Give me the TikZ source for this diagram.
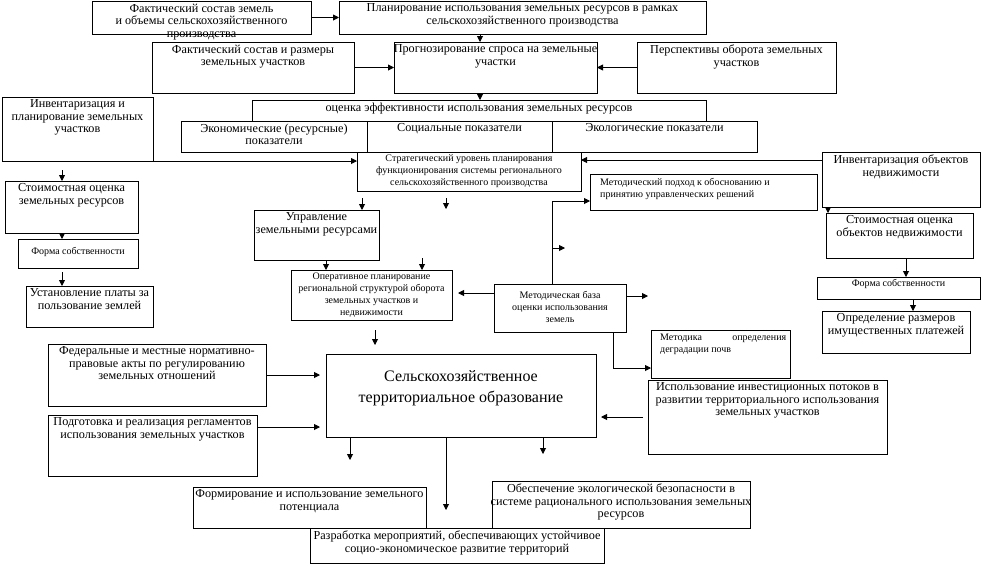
\documentclass[tikz,border=0pt]{standalone}
\usepackage{fontspec}
\setmainfont{Liberation Serif}
\usetikzlibrary{arrows.meta,calc}
\newcommand\fMed{\fontsize{12.2}{12.6}\selectfont}
\newcommand\fSm{\fontsize{10}{12}\selectfont}
\newcommand\fLg{\fontsize{16}{21}\selectfont}
\newcommand\Bx[5]{\node[box, minimum width={(#4-#2)*1pt}, minimum height={(#5-#3)*1pt}] (#1) at (#2,#3) {};}
\newcommand\Tx[3][]{\node[tx,#1] (#2-t) at ([yshift=-2.5pt]#2.north) {#3};}
\begin{document}
\begin{tikzpicture}[x=1pt,y=-1pt,
 box/.style={draw, line width=0.9pt, inner sep=0pt, outer sep=0pt, anchor=north west},
 tx/.style={inner sep=0pt, align=center, anchor=north, font=\fMed},
 arr/.style={draw, line width=0.9pt, -{Triangle[length=6pt,width=6pt]}}]
\useasboundingbox (0,0) rectangle (986,566);
% boxes
\Bx{A}{92}{1}{311}{34}
\Bx{B}{339}{1}{706}{34}
\Bx{C}{152}{42}{354}{93}
\Bx{D}{394}{42}{597}{93}
\Bx{E}{637}{42}{836}{93}
\Bx{F}{252}{100}{706}{121}
\Bx{Ga}{181}{121}{367}{152}
\Bx{Gb}{367}{121}{552}{152}
\Bx{Gc}{552}{121}{757}{152}
\Bx{H}{2}{97}{153}{161}
\Bx{ST}{357}{152}{581}{191}
\Bx{R}{822}{152}{980}{207}
\Bx{I}{5}{181}{138}{233}
\Bx{J}{18}{239}{138}{268}
\Bx{K}{26}{286}{153}{327}
\Bx{L}{254}{210}{379}{260}
\Bx{M}{291}{270}{452}{320}
\Bx{P}{590}{174}{817}{210}
\Bx{S}{826}{213}{973}{258}
\Bx{T}{817}{277}{980}{299}
\Bx{U}{822}{311}{970}{353}
\Bx{O}{494}{284}{626}{332}
\Bx{Q}{651}{330}{790}{378}
\Bx{V}{648}{380}{887}{454}
\Bx{N}{326}{354}{596}{437}
\Bx{W}{48}{344}{266}{406}
\Bx{X}{48}{415}{257}{476}
\Bx{Y}{193}{487}{426}{528}
\Bx{Z}{492}{481}{750}{528}
\Bx{AA}{310}{528}{604}{563}
% texts
\Tx{A}{Фактический состав земель\\и объемы сельскохозяйственного\\производства}
\Tx{B}{Планирование использования земельных ресурсов в рамках\\сельскохозяйственного производства}
\Tx{C}{Фактический состав и размеры\\земельных участков}
\Tx{D}{Прогнозирование спроса на земельные\\участки}
\Tx{E}{Перспективы оборота земельных\\участков}
\Tx{F}{оценка эффективности использования земельных ресурсов}
\Tx{Ga}{Экономические (ресурсные)\\показатели}
\Tx{Gb}{Социальные показатели}
\Tx{Gc}{Экологические показатели}
\Tx{H}{Инвентаризация и\\планирование земельных\\участков}
\Tx[font=\fSm]{ST}{Стратегический уровень планирования\\функционирования системы регионального\\сельскохозяйственного производства}
\Tx{R}{Инвентаризация объектов\\недвижимости}
\Tx{I}{Стоимостная оценка\\земельных ресурсов}
\Tx[font=\fSm,yshift=-6pt]{J}{Форма собственности}
\Tx{K}{Установление платы за\\пользование землей}
\Tx{L}{Управление\\земельными ресурсами}
\Tx[font=\fSm]{M}{Оперативное планирование\\региональной структурой оборота\\земельных участков и\\недвижимости}
\node[tx, font=\fSm, align=left, anchor=north west] (P-t) at ([xshift=10pt,yshift=-4pt]P.north west) {Методический подход к обоснованию и\\принятию управленческих решений};
\Tx{S}{Стоимостная оценка\\объектов недвижимости}
\Tx[font=\fSm]{T}{Форма собственности}
\Tx{U}{Определение размеров\\имущественных платежей}
\Tx[font=\fSm,yshift=-5pt]{O}{Методическая база\\оценки использования\\земель}
\node[tx, font=\fSm, align=left, anchor=north west] (Q-t) at ([xshift=9pt,yshift=-4pt]Q.north west) {\makebox[126pt][l]{Методика\hfill определения}\\деградации почв};
\Tx{V}{Использование инвестиционных потоков в\\развитии территориального использования\\земельных участков}
\Tx[font=\fLg,yshift=-14pt]{N}{Сельскохозяйственное\\территориальное образование}
\Tx{W}{Федеральные и местные нормативно-\\правовые акты по регулированию\\земельных отношений}
\Tx{X}{Подготовка и реализация регламентов\\использования земельных участков}
\Tx{Y}{Формирование и использование земельного\\потенциала}
\Tx{Z}{Обеспечение экологической безопасности в\\системе рационального использования земельных\\ресурсов}
\Tx{AA}{Разработка мероприятий, обеспечивающих устойчивое\\социо-экономическое развитие территорий}
% coordinates for connectors
\coordinate (bd) at (480,34);
\coordinate (df) at (480,93);
\coordinate (rs) at (822,160);
\coordinate (h1) at (62,170);
\coordinate (i1) at (62,233);
\coordinate (j1) at (62,272);
\coordinate (s1) at (362,198);
\coordinate (s2) at (446,198);
\coordinate (s2e) at (446,209);
\coordinate (l1) at (326,260);
\coordinate (l2) at (422,258);
\coordinate (l2e) at (422,270);
\coordinate (m1) at (375,330);
\coordinate (m1e) at (375,345);
\coordinate (om) at (494,293);
\coordinate (ome) at (458,293);
\coordinate (or) at (626,296);
\coordinate (ore) at (648,296);
\coordinate (ou) at (552,284);
\coordinate (pp) at (590,201);
\coordinate (br) at (552,248);
\coordinate (bre) at (565,248);
\coordinate (od) at (613,332);
\coordinate (qq) at (651,368);
\coordinate (r1) at (828,207);
\coordinate (t1) at (906,258);
\coordinate (u1) at (913,299);
\coordinate (xn) at (257,427);
\coordinate (n1) at (350,437);
\coordinate (n1e) at (350,460);
\coordinate (n2) at (446,437);
\coordinate (n2e) at (446,510);
\coordinate (n3) at (543,437);
\coordinate (n3e) at (543,454);
% connectors
\draw[arr] (A.east) -- (B.west);
\draw[arr] (C.east) -- (D.west);
\draw[arr] (E.west) -- (D.east);
\draw[arr] (bd) -- (bd |- D.north);
\draw[arr] (df) -- (df |- F.north);
\draw[arr] (H.south east) -- (H.south east -| ST.west);
\draw[arr] (rs) -- (rs -| ST.east);
\draw[arr] (h1) -- (h1 |- I.north);
\draw[arr] (i1) -- (i1 |- J.north);
\draw[arr] (j1) -- (j1 |- K.north);
\draw[arr] (s1) -- (s1 |- L.north);
\draw[arr] (s2) -- (s2e);
\draw[arr] (l1) -- (l1 |- M.north);
\draw[arr] (l2) -- (l2e);
\draw[arr] (m1) -- (m1e);
\draw[arr] (om) -- (ome);
\draw[arr] (or) -- (ore);
\draw[arr] (ou) -- (ou |- pp) -- (pp);
\draw[arr] (br) -- (bre);
\draw[arr] (od) -- (od |- qq) -- (qq);
\draw[arr] (r1) -- (r1 |- S.north);
\draw[arr] (t1) -- (t1 |- T.north);
\draw[arr] (u1) -- (u1 |- U.north);
\draw[arr, shorten >=6pt] (W.east) -- (W.east -| N.west);
\draw[arr, shorten >=6pt] (xn) -- (xn -| N.west);
\draw[arr, shorten >=5pt, shorten <=5pt] (V.west) -- (V.west -| N.east);
\draw[arr] (n1) -- (n1e);
\draw[arr] (n2) -- (n2e);
\draw[arr] (n3) -- (n3e);
\end{tikzpicture}
\end{document}
